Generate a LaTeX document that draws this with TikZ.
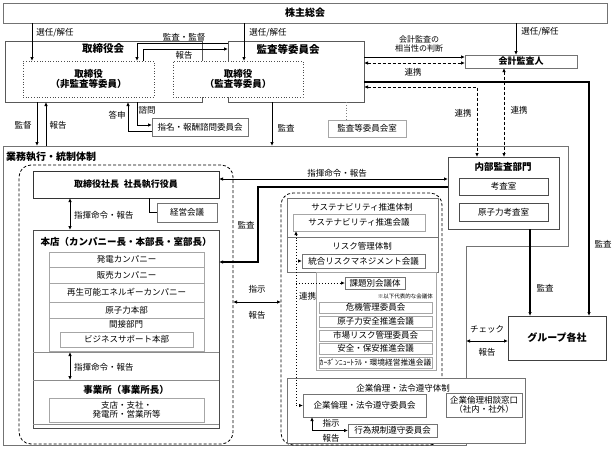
\documentclass[tikz,border=0pt]{standalone}
\usepackage{fontspec}
\setmainfont{Noto Sans CJK JP}
\usetikzlibrary{arrows.meta}
\newcommand{\fsz}[1]{\fontsize{#1}{#1}\selectfont}
\newcommand{\bx}[7]{\node[#1,anchor=north west,minimum width={(#5-#3)*1pt},minimum height={(#6-#4)*1pt}] (#2) at (#3,#4) {#7};}
\begin{document}
\begin{tikzpicture}[x=1pt,y=-1pt,
  base/.style={draw,fill=white,inner sep=0pt,outer sep=0pt,align=center,line width=0.7pt},
  gbox/.style={base,draw=black!55,font=\fsz{8.5}},
  lbox/.style={base,draw=black!35,font=\fsz{8.5}},
  kbox/.style={base,draw=black!80,font=\fsz{9}\bfseries},
  dbox/.style={base,draw=black!70,dotted,line width=0.9pt,font=\fsz{9.5}\bfseries},
  dreg/.style={draw=black,dash pattern=on 3pt off 2pt,rounded corners=12pt,line width=0.8pt,inner sep=0pt,outer sep=0pt},
  frame/.style={draw=black!55,line width=0.7pt},
  lab/.style={font=\fsz{8.5},inner sep=1pt,align=center},
  ttl/.style={font=\fsz{10}\bfseries,inner sep=1pt},
  tip/.tip={Latex[length=4pt,width=3.5pt]},
  arr/.style={-tip,line width=1pt},
  darr/.style={tip-tip,line width=1pt},
  tarr/.style={-tip,line width=1.6pt},
  dsh/.style={dash pattern=on 3pt off 2pt},
  dtt/.style={dotted,line width=0.9pt}]
\useasboundingbox (0,0) rectangle (613,450);

% ---------- business execution frame ----------
\draw[frame] (3,146) -- (568,146) -- (568,246) -- (466,246) -- (466,445) -- (3,445) -- cycle;
\coordinate (gtop) at (0,146);
\coordinate (gedge) at (466,341);
\node[ttl,anchor=west] (gt) at (5,157) {業務執行・統制体制};
\bx{dreg}{lreg}{19}{165}{233}{444}{}
\bx{dreg}{mreg}{281}{193}{442}{445}{}

% ---------- top ----------
\bx{gbox,font=\fsz{10}\bfseries}{gm}{3}{3}{607}{23}{株主総会}
\bx{gbox,draw=black!65}{torikai}{5}{41}{202}{102}{}
\node[ttl,font=\fsz{10.5}\bfseries] (tkt) at (103,49) {取締役会};
\bx{gbox,draw=black!65}{kansai}{228}{41}{364}{102}{}
\node[ttl,font=\fsz{10.5}\bfseries] (kst) at (288,49) {監査等委員会};
\bx{dbox}{tnon}{23}{61}{154}{97}{取締役\\（非監査等委員）}
\bx{dbox}{tkan}{173}{61}{303}{97}{取締役\\（監査等委員）}
\bx{gbox,font=\fsz{9}\bfseries}{kaikei}{465}{55}{577}{68}{会計監査人}
\bx{lbox}{kshitsu}{328}{120}{406}{137}{監査等委員会室}
\bx{gbox}{shimei}{152}{118}{248}{136}{指名・報酬諮問委員会}
\draw[black!50,dotted,line width=0.8pt] (kansai.south -| 346,0) -- (kshitsu.north -| 346,0);

\draw[arr] (gm.south -| 32,0) -- (tnon.north -| 32,0);
\node[lab] (l1) at (55,33) {選任/解任};
\draw[arr] (gm.south -| 244,0) -- (tkan.north -| 244,0);
\node[lab] (l2) at (268,33) {選任/解任};
\draw[arr] (gm.south -| 516,0) -- (kaikei.north -| 516,0);
\node[lab] (l3) at (540,32) {選任/解任};

\draw[arr] (kansai.west |- 0,43) -| (tnon.north -| 137,0);
\node[lab] (l4) at (184,37) {監査・監督};
\draw[arr] (tnon.north -| 143,0) |- (kansai.west |- 0,49);
\node[lab] (l5) at (184,55) {報告};

\draw[arr] (torikai.south -| 137,0) |- (shimei.west |- 0,125);
\node[lab] (l6) at (147,110) {諮問};
\draw[arr] (shimei.west |- 0,131) -| (torikai.south -| 128,0);
\node[lab] (l7) at (117,115) {答申};

\draw[arr] (torikai.south -| 37,0) -- (gtop -| 37,0);
\node[lab] (l8) at (23,125) {監督};
\draw[arr] (gtop -| 46,0) -- (torikai.south -| 46,0);
\node[lab] (l9) at (58,125) {報告};
\draw[arr] (kansai.south -| 272,0) -- (gtop -| 272,0);
\node[lab] (l10) at (286,128) {監査};

\draw[arr] (kansai.east |- 0,57) -- (kaikei.west |- 0,57);
\node[lab,font=\fsz{8}] (l11) at (419,44) {会計監査の\\[1pt]相当性の判断};
\draw[darr,dsh] (kansai.east |- 0,63) -- (kaikei.west |- 0,63);
\node[lab] (l12) at (413,72) {連携};

% ---------- internal audit / group ----------
\bx{kbox,draw=black!70}{naibu}{448}{157}{559}{229}{}
\node[ttl,font=\fsz{9.5}\bfseries] (nt) at (503,167) {内部監査部門};
\bx{gbox,draw=black!70}{kousa}{459}{178}{548}{195}{考査室}
\bx{gbox,draw=black!70}{gkousa}{459}{203}{548}{221}{原子力考査室}
\bx{kbox,draw=black!75,font=\fsz{10}\bfseries}{group}{508}{316}{606}{360}{グループ各社}

\draw[tarr] (kansai.east |- 0,82) -| (group.north -| 589,0);
\node[lab] (l13) at (603,244) {監査};
\draw[darr,dsh] (kansai.east |- 0,87) -| (naibu.north -| 477,0);
\node[lab] (l14) at (463,113) {連携};
\draw[darr,dsh] (kaikei.south -| 504,0) -- (naibu.north -| 504,0);
\node[lab] (l15) at (519,110) {連携};
\draw[tarr] (naibu.south -| 530,0) -- (group.north -| 530,0);
\node[lab] (l16) at (545,288) {監査};
\draw[darr] (gedge) -- (group.west |- gedge);
\node[lab] (l17) at (487,329) {チェック};
\node[lab] (l18) at (487,352) {報告};

% ---------- left column ----------
\bx{kbox}{pres}{33}{171}{219}{198}{取締役社長\hspace{5pt}社長執行役員}
\bx{gbox}{keiei}{157}{203}{217}{222}{経営会議}
\draw[line width=1pt] (pres.south -| 149,0) |- (keiei.west);
\bx{kbox,draw=black!70}{honten}{33}{230}{219}{428}{}
\draw[darr] (pres.south -| 70,0) -- (honten.north -| 70,0);
\node[lab,anchor=west] (l19) at (73,215) {指揮命令・報告};
\node[ttl,font=\fsz{9.5}\bfseries] (ht) at (126,242) {本店（カンパニー長・本部長・室部長）};
\bx{lbox}{hatsu}{49}{252}{204}{267}{発電カンパニー}
\bx{lbox}{hanbai}{49}{267}{204}{283}{販売カンパニー}
\bx{lbox}{saisei}{49}{283}{204}{302}{再生可能エネルギーカンパニー}
\bx{lbox}{genshi}{49}{302}{204}{318}{原子力本部}
\bx{lbox}{kansetsu}{49}{318}{204}{351}{}
\node[lab] (kst2) at (126,324) {間接部門};
\bx{lbox}{bsup}{60}{332}{193}{347}{ビジネスサポート本部}
\draw[black!45,line width=0.7pt] (honten.west |- 0,352) -- (honten.east |- 0,352);
\draw[black!45,line width=0.7pt] (honten.west |- 0,380) -- (honten.east |- 0,380);
\draw[black!45,line width=0.7pt] (honten.west |- 0,424) -- (honten.east |- 0,424);
\draw[darr] (honten.west |- 0,352) ++(37,0) coordinate (hq1) -- (hq1 |- 0,380);
\node[lab,anchor=west] (l20) at (73,367) {指揮命令・報告};
\node[ttl,font=\fsz{9.5}\bfseries] (jt) at (126,390) {事業所（事業所長）};
\bx{lbox}{shiten}{49}{398}{204}{422}{支店・支社・\\発電所・営業所等}

% ---------- middle connectors ----------
\draw[darr] (pres.east |- 0,179) -- (naibu.west |- 0,179);
\node[lab] (l21) at (337,173) {指揮命令・報告};
\draw[tarr] (naibu.west |- 0,187) -| (258,225) |- (honten.east |- 0,262);
\node[lab] (l22) at (246,225) {監査};
\draw[darr] (lreg.east |- 0,302) -- (mreg.west |- 0,302);
\node[lab] (l23) at (257,289) {指示};
\node[lab] (l24) at (257,315) {報告};

% ---------- middle column ----------
\bx{gbox}{sus}{287}{198}{438}{237}{}
\node[lab] (st) at (362,207) {サステナビリティ推進体制};
\bx{lbox}{susk}{293}{214}{425}{231}{サステナビリティ推進会議}
\bx{gbox}{risk}{287}{237}{438}{272}{}
\node[lab] (rt) at (362,246) {リスク管理体制};
\bx{gbox}{riskk}{302}{254}{425}{268}{統合リスクマネジメント会議}
\bx{lbox}{rlist}{316}{272}{436}{370}{}
\bx{gbox}{kadai}{345}{277}{405}{289}{課題別会議体}
\node[lab,font=\fsz{5.5},anchor=east] (nt2) at (434,296) {※以下代表的な会議体};
\bx{lbox}{kiki}{319}{302}{432}{313}{危機管理委員会}
\bx{lbox}{genan}{319}{316}{432}{327}{原子力安全推進会議}
\bx{lbox}{shijo}{319}{330}{432}{341}{市場リスク管理委員会}
\bx{lbox}{anzen}{319}{343}{432}{354}{安全・保安推進会議}
\bx{lbox,font=\fsz{7.7}}{carbon}{319}{357}{432}{368}{ｶｰﾎﾞﾝﾆｭｰﾄﾗﾙ・環境経営推進会議}

\bx{gbox}{rinri}{287}{378}{525}{443}{}
\node[lab] (rnt) at (403,388) {企業倫理・法令遵守体制};
\bx{gbox}{rinrik}{303}{394}{426}{417}{企業倫理・法令遵守委員会}
\bx{gbox}{soudan}{446}{393}{522}{417}{企業倫理相談窓口\\（社内・社外）}
\bx{gbox}{koui}{348}{424}{437}{437}{行為規制遵守委員会}
\draw[darr,line width=0.9pt] (rinrik.south -| 312,0) |- (koui.west);
\node[lab] (l25) at (331,423) {指示};
\node[lab] (l26) at (331,438) {報告};

\draw[dtt,tip-tip] (susk.south -| 296,0) |- (rinrik.west);
\draw[dtt,-tip] (riskk.west -| 296,0) -- (riskk.west);
\draw[dtt,-tip] (kadai.west -| 296,0) -- (kadai.west);
\node[lab,anchor=west] (l27) at (298,296) {連携};
\end{tikzpicture}
\end{document}
